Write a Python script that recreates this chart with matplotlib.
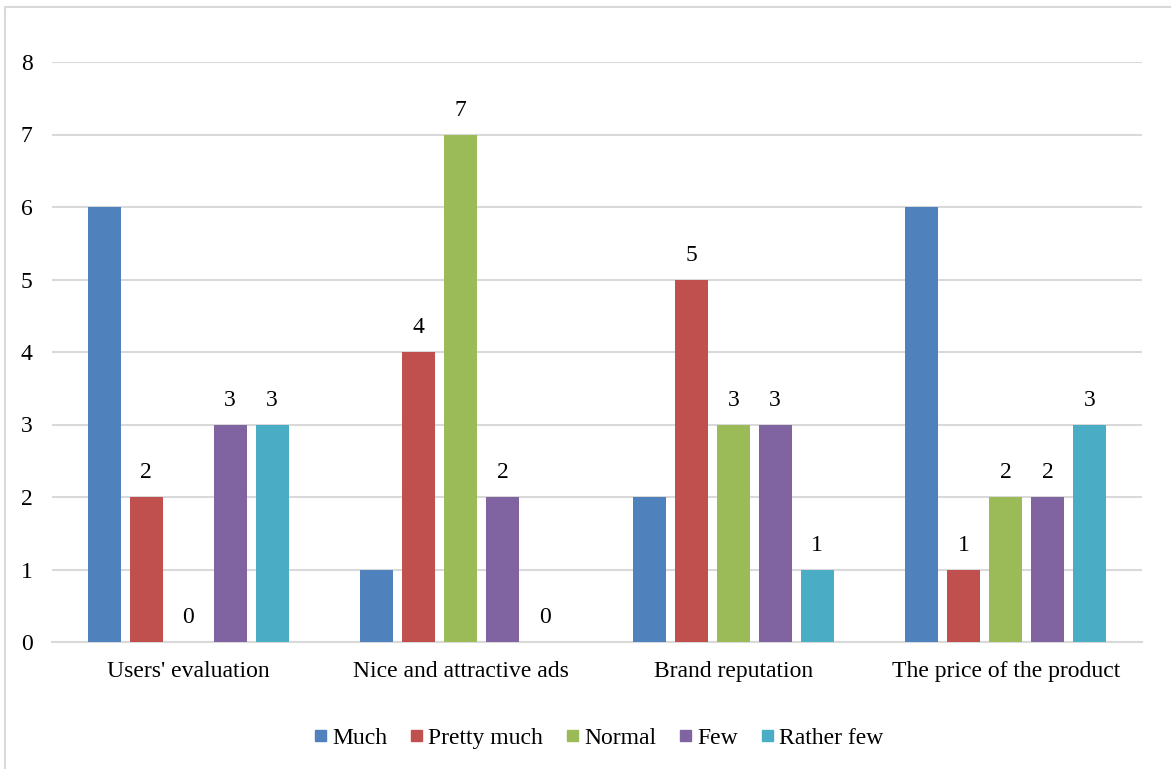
import numpy as np
import matplotlib.pyplot as plt
from matplotlib.patches import Rectangle

plt.rcParams['font.family'] = ['Liberation Serif', 'DejaVu Serif']

categories = ["Users' evaluation", 'Nice and attractive ads', 'Brand reputation', 'The price of the product']
series_names = ['Much', 'Pretty much', 'Normal', 'Few', 'Rather few']
much = [6, 1, 2, 6]
pretty_much = [2, 4, 5, 1]
normal = [0, 7, 3, 2]
few = [3, 2, 3, 2]
rather_few = [3, 0, 1, 3]
colors = ['#4F81BD', '#C0504D', '#9BBB59', '#8064A2', '#4BACC6']
show_labels = [False, True, True, True, True]

series = [much, pretty_much, normal, few, rather_few]

W, H = 1171, 769
fig = plt.figure(figsize=(W / 100, H / 100), dpi=100)
ax = fig.add_axes([52 / W, 1 - 642 / H, 1090 / W, 580 / H])

x = np.arange(len(categories))
step = 0.154
width = 0.121
fs = 17

for i, (vals, name, c) in enumerate(zip(series, series_names, colors)):
    pos = x + (i - 2) * step
    ax.bar(pos, vals, width, color=c, label=name, zorder=3)
    if show_labels[i]:
        for p, v in zip(pos, vals):
            ax.annotate(str(v), (p, v), xytext=(0, 10), textcoords='offset points',
                        ha='center', va='bottom', fontsize=fs)

ax.set_xlim(-0.5, len(categories) - 0.5)
ax.set_ylim(0, 8)
ax.set_yticks(range(0, 9))
ax.set_xticks(x)
ax.set_xticklabels(categories)
ax.tick_params(axis='both', length=0, labelsize=fs)
ax.tick_params(axis='x', pad=14)
ax.tick_params(axis='y', pad=14)
ax.yaxis.grid(True, color='#D9D9D9', linewidth=1.5, zorder=0)
for s in ['top', 'right', 'left']:
    ax.spines[s].set_visible(False)
ax.spines['bottom'].set_color('#D9D9D9')
ax.spines['bottom'].set_linewidth(1.5)

# legend laid out by hand so every label sits on one baseline
renderer = fig.canvas.get_renderer()
box, gap_in, gap_out = 11, 6, 24
widths = []
for name in series_names:
    t = fig.text(0, 0, name, fontsize=fs)
    widths.append(t.get_window_extent(renderer).width)
    t.remove()
total = sum(box + gap_in + w for w in widths) + gap_out * (len(widths) - 1)
cur = 599 - total / 2
for name, c, w in zip(series_names, colors, widths):
    fig.patches.append(Rectangle((cur / W, 1 - 741 / H), box / W, box / H,
                                 transform=fig.transFigure, color=c))
    fig.text((cur + box + gap_in) / W, 1 - 744 / H, name, fontsize=fs, va='baseline', ha='left')
    cur += box + gap_in + w + gap_out

fig.patches.append(Rectangle((5 / W, -0.01), 1.1, 1 - 7 / H + 0.01, transform=fig.transFigure,
                             fill=False, edgecolor='#D9D9D9', linewidth=1.5))

fig.savefig('out.png', dpi=100)
